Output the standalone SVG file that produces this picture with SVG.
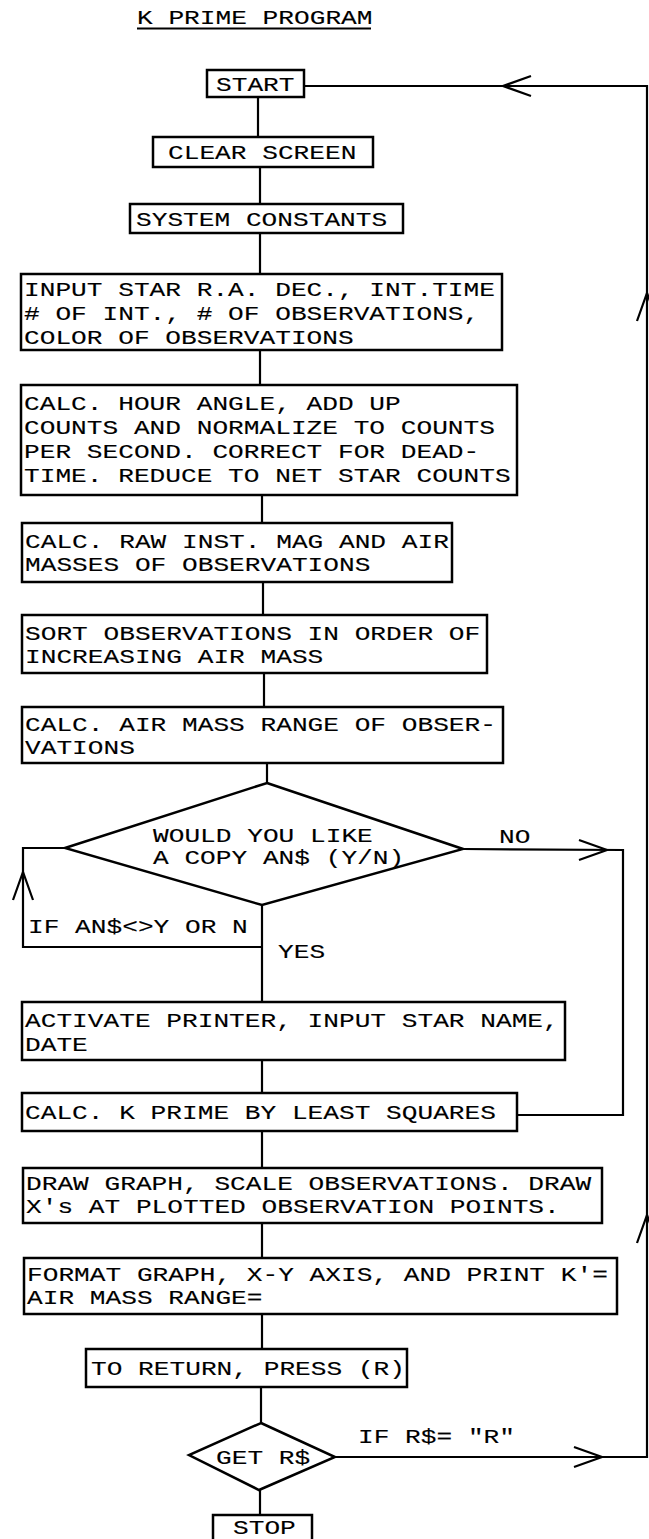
<svg xmlns="http://www.w3.org/2000/svg" width="649" height="1539" viewBox="0 0 649 1539">
<style>
.bg{fill:#fff}
.box{fill:#fff;stroke:#000;stroke-width:2.5}
.ln{fill:none;stroke:#000;stroke-width:2.2}
.t{font-family:"Liberation Mono","DejaVu Sans Mono",monospace;font-size:21px;fill:#000;stroke:#000;stroke-width:0.12}
</style>
<defs>
<path id="chev" d="M-28,-10 L0,0 L-28,10" fill="none" stroke="#000" stroke-width="2.2"/>
</defs>
<rect class="bg" x="0" y="0" width="649" height="1539"/>
<g id="title">
<text class="t" transform="matrix(1.246 0 0 1 137 24)">K PRIME PROGRAM</text>
<line class="ln" x1="137" y1="28.5" x2="371" y2="28.5" stroke-width="1.8"/>
</g>
<g id="connectors">
<line class="ln" x1="258" y1="97" x2="258" y2="137"/>
<line class="ln" x1="260" y1="167" x2="260" y2="204"/>
<line class="ln" x1="260" y1="233" x2="260" y2="274"/>
<line class="ln" x1="260" y1="350" x2="260" y2="385"/>
<line class="ln" x1="262" y1="495" x2="262" y2="523"/>
<line class="ln" x1="263" y1="582" x2="263" y2="615"/>
<line class="ln" x1="264" y1="673" x2="264" y2="707"/>
<line class="ln" x1="267" y1="763" x2="267" y2="783"/>
<line class="ln" x1="262" y1="905" x2="262" y2="1002"/>
<polyline class="ln" points="65,848 23,848 23,947 262,947"/>
<polyline class="ln" points="463,849 623,850 623,1115 517,1115"/>
<line class="ln" x1="262" y1="1060" x2="262" y2="1093"/>
<line class="ln" x1="262" y1="1131" x2="262" y2="1168"/>
<line class="ln" x1="262" y1="1223" x2="262" y2="1258"/>
<line class="ln" x1="262" y1="1314" x2="262" y2="1349"/>
<line class="ln" x1="261" y1="1387" x2="261" y2="1423"/>
<line class="ln" x1="260" y1="1490" x2="260" y2="1515"/>
<polyline class="ln" points="335,1457 647,1457 647,86 304,86"/>
<use href="#chev" transform="translate(503,86) rotate(180)"/>
<use href="#chev" transform="translate(607,850)"/>
<use href="#chev" transform="translate(23,872) rotate(-90)"/>
<use href="#chev" transform="translate(647,293) rotate(-90)"/>
<use href="#chev" transform="translate(647,1215) rotate(-90)"/>
<use href="#chev" transform="translate(602,1457)"/>
<text class="t" transform="matrix(1.246 0 0 1 499 843)">NO</text>
<text class="t" transform="matrix(1.246 0 0 1 278 958)">YES</text>
<text class="t" transform="matrix(1.246 0 0 1 28 933)">IF AN$&lt;&gt;Y OR N</text>
<text class="t" transform="matrix(1.246 0 0 1 358 1443)">IF R$= "R"</text>
</g>
<g id="start">
<rect class="box" x="207" y="70" width="97" height="27"/>
<text class="t" transform="matrix(1.246 0 0 1 216 91)">START</text>
</g>
<g id="clear">
<rect class="box" x="153" y="137" width="220" height="30"/>
<text class="t" transform="matrix(1.246 0 0 1 168 159)">CLEAR SCREEN</text>
</g>
<g id="constants">
<rect class="box" x="130" y="204" width="273" height="29"/>
<text class="t" transform="matrix(1.246 0 0 1 136 226)">SYSTEM CONSTANTS</text>
</g>
<g id="input">
<rect class="box" x="21" y="274" width="481" height="76"/>
<text class="t" transform="matrix(1.246 0 0 1 24 296)">INPUT STAR R.A. DEC., INT.TIME</text>
<text class="t" transform="matrix(1.246 0 0 1 24 320)"># OF INT., # OF OBSERVATIONS,</text>
<text class="t" transform="matrix(1.246 0 0 1 24 344)">COLOR OF OBSERVATIONS</text>
</g>
<g id="hourangle">
<rect class="box" x="21" y="385" width="496" height="110"/>
<text class="t" transform="matrix(1.246 0 0 1 24 410)">CALC. HOUR ANGLE, ADD UP</text>
<text class="t" transform="matrix(1.246 0 0 1 24 434)">COUNTS AND NORMALIZE TO COUNTS</text>
<text class="t" transform="matrix(1.246 0 0 1 24 458)">PER SECOND. CORRECT FOR DEAD-</text>
<text class="t" transform="matrix(1.246 0 0 1 24 482)">TIME. REDUCE TO NET STAR COUNTS</text>
</g>
<g id="rawmag">
<rect class="box" x="22" y="523" width="430" height="59"/>
<text class="t" transform="matrix(1.246 0 0 1 25 548)">CALC. RAW INST. MAG AND AIR</text>
<text class="t" transform="matrix(1.246 0 0 1 25 571)">MASSES OF OBSERVATIONS</text>
</g>
<g id="sort">
<rect class="box" x="22" y="615" width="465" height="58"/>
<text class="t" transform="matrix(1.246 0 0 1 25 640)">SORT OBSERVATIONS IN ORDER OF</text>
<text class="t" transform="matrix(1.246 0 0 1 25 663)">INCREASING AIR MASS</text>
</g>
<g id="range">
<rect class="box" x="22" y="707" width="481" height="56"/>
<text class="t" transform="matrix(1.246 0 0 1 25 731)">CALC. AIR MASS RANGE OF OBSER-</text>
<text class="t" transform="matrix(1.246 0 0 1 25 754)">VATIONS</text>
</g>
<g id="copy">
<polygon class="box" points="267,783 463,849 262,905 65,848"/>
<text class="t" transform="matrix(1.246 0 0 1 153 842)">WOULD YOU LIKE</text>
<text class="t" transform="matrix(1.246 0 0 1 153 864)">A COPY AN$ (Y/N)</text>
</g>
<g id="printer">
<rect class="box" x="22" y="1002" width="543" height="58"/>
<text class="t" transform="matrix(1.246 0 0 1 25 1027)">ACTIVATE PRINTER, INPUT STAR NAME,</text>
<text class="t" transform="matrix(1.246 0 0 1 25 1051)">DATE</text>
</g>
<g id="kprime">
<rect class="box" x="22" y="1093" width="495" height="38"/>
<text class="t" transform="matrix(1.246 0 0 1 25 1119)">CALC. K PRIME BY LEAST SQUARES</text>
</g>
<g id="graph">
<rect class="box" x="23" y="1168" width="579" height="55"/>
<text class="t" transform="matrix(1.246 0 0 1 26 1190)">DRAW GRAPH, SCALE OBSERVATIONS. DRAW</text>
<text class="t" transform="matrix(1.246 0 0 1 26 1213)">X's AT PLOTTED OBSERVATION POINTS.</text>
</g>
<g id="format">
<rect class="box" x="24" y="1258" width="593" height="56"/>
<text class="t" transform="matrix(1.246 0 0 1 27 1281)">FORMAT GRAPH, X-Y AXIS, AND PRINT K'=</text>
<text class="t" transform="matrix(1.246 0 0 1 27 1304)">AIR MASS RANGE=</text>
</g>
<g id="return">
<rect class="box" x="86" y="1349" width="321" height="38"/>
<text class="t" transform="matrix(1.246 0 0 1 91 1375)">TO RETURN, PRESS (R)</text>
</g>
<g id="getr">
<polygon class="box" points="261,1423 335,1457 259,1490 189,1455"/>
<text class="t" transform="matrix(1.246 0 0 1 216 1464)">GET R$</text>
</g>
<g id="stop">
<rect class="box" x="213" y="1515" width="99" height="32"/>
<text class="t" transform="matrix(1.246 0 0 1 233 1534)">STOP</text>
</g>
</svg>
